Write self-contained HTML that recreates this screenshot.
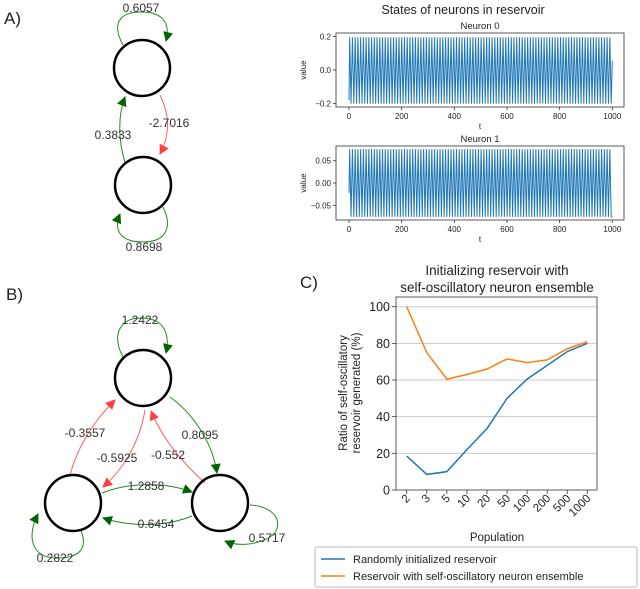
<!DOCTYPE html>
<html><head><meta charset="utf-8"><style>
body{margin:0;background:#fff}
svg{display:block;font-family:"Liberation Sans","DejaVu Sans",sans-serif}
</style></head><body>
<svg width="640" height="589" viewBox="0 0 640 589">
<defs>
<marker id="ag" markerWidth="10" markerHeight="10" refX="9" refY="5" orient="auto" markerUnits="userSpaceOnUse"><path d="M0,0 L10,5 L0,10 z" fill="#006400"/></marker>
<marker id="ar" markerWidth="10" markerHeight="10" refX="9" refY="5" orient="auto" markerUnits="userSpaceOnUse"><path d="M0,0 L10,5 L0,10 z" fill="#ff4040"/></marker>
</defs>
<g font-size="17" fill="#222">
<text x="4" y="24">A)</text>
<text x="6" y="300">B)</text>
<text x="300" y="288">C)</text>
</g>
<!-- Panel A -->
<g fill="none" stroke-width="1">
<path d="M123,45 C112,25 118,12 141,12 C165,12 170,25 166,41" stroke="#228b22" marker-end="url(#ag)"/>
<path d="M125,162 C118,140 118,115 125,97" stroke="#228b22" marker-end="url(#ag)"/>
<path d="M160,95 C170,115 170,135 160,154" stroke="#ff6060" marker-end="url(#ar)"/>
<path d="M163,207 C172,225 168,242 143,242 C118,242 114,228 120,214" stroke="#228b22" marker-end="url(#ag)"/>
<circle cx="142" cy="68" r="28" stroke="#000" stroke-width="2.5"/>
<circle cx="143" cy="185" r="28" stroke="#000" stroke-width="2.5"/>
</g>
<g font-size="12" fill="#333" text-anchor="middle">
<text x="141" y="12">0.6057</text>
<text x="113" y="139">0.3833</text>
<text x="169" y="127">-2.7016</text>
<text x="144" y="251">0.8698</text>
</g>
<!-- Panel B -->
<g fill="none" stroke-width="1">
<path d="M123,357 C112,337 118,318 141,318 C165,318 170,335 166,353" stroke="#228b22" marker-end="url(#ag)"/>
<path d="M70,475 C78,445 95,420 115,400" stroke="#ff6060" marker-end="url(#ar)"/>
<path d="M145,410 C140,440 125,468 103,487" stroke="#ff6060" marker-end="url(#ar)"/>
<path d="M170,397 C195,415 213,445 217,473" stroke="#228b22" marker-end="url(#ag)"/>
<path d="M205,483 C185,465 163,440 151,411" stroke="#ff6060" marker-end="url(#ar)"/>
<path d="M102,493 C130,482 165,482 192,492" stroke="#228b22" marker-end="url(#ag)"/>
<path d="M192,516 C165,527 130,527 103,518" stroke="#228b22" marker-end="url(#ag)"/>
<path d="M81,531 C88,548 80,558 57,558 C30,558 27,535 38,514" stroke="#228b22" marker-end="url(#ag)"/>
<path d="M250,505 C280,507 284,528 270,537 C255,546 236,546 225,541" stroke="#228b22" marker-end="url(#ag)"/>
<circle cx="143" cy="378" r="28" stroke="#000" stroke-width="2.5"/>
<circle cx="73" cy="503" r="28" stroke="#000" stroke-width="2.5"/>
<circle cx="220" cy="503" r="28" stroke="#000" stroke-width="2.5"/>
</g>
<g font-size="12" fill="#333" text-anchor="middle">
<text x="140" y="324">1.2422</text>
<text x="85" y="437">-0.3557</text>
<text x="200" y="439">0.8095</text>
<text x="117" y="462">-0.5925</text>
<text x="168" y="459">-0.552</text>
<text x="146" y="490">1.2858</text>
<text x="156" y="528">0.6454</text>
<text x="55" y="562">0.2822</text>
<text x="267" y="542">0.5717</text>
</g>
<text x="463" y="14" font-size="12.5" text-anchor="middle" fill="#222">States of neurons in reservoir</text>
<g id="states"></g>
<g id="chartc"></g>
</svg>
<script>
// Panel A time series data
const neuronNames = ['Neuron 0', 'Neuron 1'];
const neuronHigh = [0.195, 0.076];
const neuronLow = [-0.2, -0.076];
const neuronStart = [-0.18, -0.022];
const neuronEnd = [0.055, -0.076];
const neuronYTicks = [[0.2, 0.0, -0.2], [0.05, 0.00, -0.05]];
const neuronYTickLabels = [['0.2', '0.0', '\u22120.2'], ['0.05', '0.00', '\u22120.05']];
const neuronYLim = [[-0.22, 0.22], [-0.083, 0.083]];
const tTicks = [0, 200, 400, 600, 800, 1000];
const halfPeriod = 5.2;
const tMax = 1000;

// Panel C data
const populations = ['2','3','5','10','20','50','100','200','500','1000'];
const randomSeries = [18.5, 8.5, 10, 22, 33.5, 50, 60.5, 68, 75.5, 80];
const ensembleSeries = [100, 75, 60.5, 63, 66, 71.5, 69.5, 71, 77, 81];
const cYTicks = [0, 20, 40, 60, 80, 100];

const NS='http://www.w3.org/2000/svg';
function mk(tag, attrs, parent){const e=document.createElementNS(NS,tag);for(const k in attrs)e.setAttribute(k,attrs[k]);parent.appendChild(e);return e;}

const st=document.getElementById('states');
const boxes=[{l:336,r:624,t:33,b:107},{l:336,r:624,t:146,b:220}];
neuronNames.forEach((nm,i)=>{
  const B=boxes[i];
  const xs=t=>349+(t/tMax)*(612.3-349);
  const ys=v=>B.b-(v-neuronYLim[i][0])/(neuronYLim[i][1]-neuronYLim[i][0])*(B.b-B.t);
  let pts=[[0,neuronStart[i]]];
  let k=1;
  for(let t=halfPeriod*0.5;t<tMax;t+=halfPeriod){pts.push([t,k%2?neuronHigh[i]:neuronLow[i]]);k++;}
  pts.push([tMax,neuronEnd[i]]);
  const line=mk('polyline',{points:pts.map(p=>xs(p[0]).toFixed(2)+','+ys(p[1]).toFixed(2)).join(' '),fill:'none',stroke:'#1f77b4','stroke-width':'1'},st);
  
  
  const fr=mk('rect',{x:B.l,y:B.t,width:B.r-B.l,height:B.b-B.t,fill:'none',stroke:'#333','stroke-width':'0.8'},st);
  
  
  const tt=mk('text',{x:480,y:B.t-4,'font-size':'9.5','text-anchor':'middle',fill:'#222'},st);tt.textContent=nm;
  
  
  neuronYTicks[i].forEach((v,j)=>{
    mk('line',{x1:B.l-3,x2:B.l,y1:ys(v),y2:ys(v),stroke:'#333','stroke-width':'0.8'},st);
    const tl=mk('text',{x:B.l-5,y:ys(v)+3,'font-size':'8','text-anchor':'end',fill:'#222'},st);tl.textContent=neuronYTickLabels[i][j];
    
    
  });
  tTicks.forEach(t=>{
    mk('line',{x1:xs(t),x2:xs(t),y1:B.b,y2:B.b+3,stroke:'#333','stroke-width':'0.8'},st);
    const tl=mk('text',{x:xs(t),y:B.b+12,'font-size':'8','text-anchor':'middle',fill:'#222'},st);tl.textContent=t;
    
    
  });
  const xl=mk('text',{x:480,y:B.b+22,'font-size':'8','text-anchor':'middle',fill:'#222'},st);xl.textContent='t';
  
  
  const yl=mk('text',{x:0,y:0,'font-size':'8','text-anchor':'middle',fill:'#222',transform:'translate(306,'+((B.t+B.b)/2)+') rotate(-90)'},st);yl.textContent='value';
  
  
});

// Chart C
const cg=document.getElementById('chartc');
const L=396,R=597,T=297,Bt=490;
const cx=i=>406.7+i*(587.3-406.7)/(populations.length-1);
const cy=v=>Bt-v*(Bt-306.7)/100;
cYTicks.forEach(v=>{
  if(v>0){const g=mk('line',{x1:L,x2:R,y1:cy(v),y2:cy(v),stroke:'#c8c8c8','stroke-width':'1'},cg);
  
  }
  mk('line',{x1:L-4,x2:L,y1:cy(v),y2:cy(v),stroke:'#333','stroke-width':'0.8'},cg);
  const t=mk('text',{x:L-6,y:cy(v)+4.5,'font-size':'12.5','text-anchor':'end',fill:'#222'},cg);t.textContent=v;
  
  
});
populations.forEach((p,i)=>{
  mk('line',{x1:cx(i),x2:cx(i),y1:Bt,y2:Bt+4,stroke:'#333','stroke-width':'0.8'},cg);
  const t=mk('text',{x:0,y:0,'font-size':'11.5','text-anchor':'end',fill:'#222',transform:'translate('+(cx(i)+4)+','+(Bt+9)+') rotate(-45)'},cg);t.textContent=p;
  
  
});
const l1=mk('polyline',{points:randomSeries.map((v,i)=>cx(i)+','+cy(v)).join(' '),fill:'none',stroke:'#1f77b4','stroke-width':'1.5'},cg);


const l2=mk('polyline',{points:ensembleSeries.map((v,i)=>cx(i)+','+cy(v)).join(' '),fill:'none',stroke:'#ff7f0e','stroke-width':'1.5'},cg);


const fr=mk('rect',{x:L,y:T,width:R-L,height:Bt-T,fill:'none',stroke:'#333','stroke-width':'0.8'},cg);


const tl1=mk('text',{x:497,y:275,'font-size':'13.5','text-anchor':'middle',fill:'#222'},cg);tl1.textContent='Initializing reservoir with';


const tl2=mk('text',{x:497,y:292,'font-size':'13.5','text-anchor':'middle',fill:'#222'},cg);tl2.textContent='self-oscillatory neuron ensemble';


const xl=mk('text',{x:497,y:541,'font-size':'11.5','text-anchor':'middle',fill:'#222'},cg);xl.textContent='Population';


const yl1=mk('text',{x:0,y:0,'font-size':'11.5','text-anchor':'middle',fill:'#222',transform:'translate(347,393) rotate(-90)'},cg);yl1.textContent='Ratio of self-oscillatory';


const yl2=mk('text',{x:0,y:0,'font-size':'11.5','text-anchor':'middle',fill:'#222',transform:'translate(360,393) rotate(-90)'},cg);yl2.textContent='reservoir generated (%)';


const lg=mk('rect',{x:315,y:547,width:322,height:40,fill:'#fff',stroke:'#bbb','stroke-width':'1',rx:2},cg);


[['Randomly initialized reservoir','#1f77b4',559],['Reservoir with self-oscillatory neuron ensemble','#ff7f0e',576]].forEach((e,i)=>{
  mk('line',{x1:321,x2:345,y1:e[2],y2:e[2],stroke:e[1],'stroke-width':'1.5'},cg);
  const t=mk('text',{x:353,y:e[2]+4,'font-size':'11','fill':'#222'},cg);t.textContent=e[0];
  
  
});
</script>
</body></html>
